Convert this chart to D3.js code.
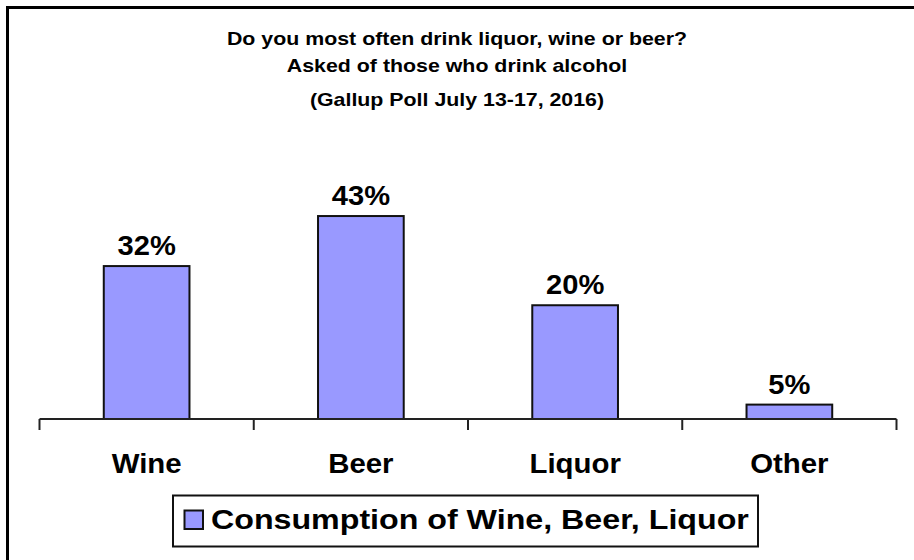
<!DOCTYPE html>
<html>
<head>
<meta charset="utf-8">
<script src="https://cdn.jsdelivr.net/npm/d3@7"></script>
<style>
  body { margin: 0; background: #fff; }
  text { font-family: "Liberation Sans", Arial, sans-serif; font-weight: bold; fill: #000; }
</style>
</head>
<body>
<div id="chart"></div>
<script>
// data
var drinks = ["Wine", "Beer", "Liquor", "Other"]
var barValues = [32.4, 43, 24.1, 3.05]      // bar heights as drawn
var valueLabels = ["32%", "43%", "20%", "5%"]
var titleLines = ["Do you most often drink liquor, wine or beer?", "Asked of those who drink alcohol", "(Gallup Poll July 13-17, 2016)"]
var seriesName = "Consumption of Wine, Beer, Liquor"

var svgW = 914
var svgH = 560
var barColor = "#9999ff"

var svg = d3.select('#chart').append('svg')
    .attr('width', svgW)
    .attr('height', svgH)

// outer frame (right and bottom edges fall outside the picture)
svg.append('rect')
    .attr('x', 7.5).attr('y', 7.5)
    .attr('width', svgW + 20).attr('height', svgH + 20)
    .attr('fill', 'none')
    .attr('stroke', '#000')
    .attr('stroke-width', 3)

// titles (the original text is a bit stretched sideways)
var titleY = [45, 72, 106]
svg.selectAll('.title')
    .data(titleLines)
    .enter().append('text')
    .attr('class', 'title')
    .attr('transform', (d, i) => `translate(457,${titleY[i]}) scale(1.22,1)`)
    .attr('text-anchor', 'middle')
    .style('font-size', '17.5px')
    .text(d => d)

var margins = { left: 39.5, right: 17.5, top: 183, bottom: 141 }
var chartW = svgW - margins.left - margins.right
var chartH = svgH - margins.top - margins.bottom

var chart = svg.append('g')
    .attr('transform', `translate(${margins.left},${margins.top})`)

var xscale = d3.scaleBand()
    .domain(drinks)
    .range([0, chartW])
    .paddingInner(0.6)
    .paddingOuter(0.3)

var yscale = d3.scaleLinear()
    .domain([0, 50])
    .range([chartH, 0])

var data = drinks.map((d, i) => ({ name: d, value: barValues[i], label: valueLabels[i] }))

chart.selectAll('.bar')
    .data(data)
    .enter().append('rect')
    .attr('class', 'bar')
    .attr('x', d => xscale(d.name))
    .attr('y', d => yscale(d.value))
    .attr('width', xscale.bandwidth())
    .attr('height', d => chartH - yscale(d.value))
    .attr('fill', barColor)
    .attr('stroke', '#111')
    .attr('stroke-width', 2)

chart.selectAll('.vlabel')
    .data(data)
    .enter().append('text')
    .attr('class', 'vlabel')
    .attr('transform', d => `translate(${xscale(d.name) + xscale.bandwidth() / 2},${yscale(d.value) - 11}) scale(1.04,1)`)
    .attr('text-anchor', 'middle')
    .style('font-size', '28px')
    .text(d => d.label)

// category axis: ticks sit between the categories
var step = xscale.step()
var tickPos = d3.range(drinks.length + 1).map(i => i * step)
var axis = chart.append('g')
    .attr('transform', `translate(0, ${chartH})`)
axis.append('line')
    .attr('x1', 0).attr('x2', chartW)
    .attr('y1', 0).attr('y2', 0)
    .attr('stroke', '#222').attr('stroke-width', 2)
axis.selectAll('.tick')
    .data(tickPos)
    .enter().append('line')
    .attr('x1', d => d).attr('x2', d => d)
    .attr('y1', 0).attr('y2', 11)
    .attr('stroke', '#222').attr('stroke-width', 2)
axis.selectAll('.cat')
    .data(drinks)
    .enter().append('text')
    .attr('class', 'cat')
    .attr('transform', d => `translate(${xscale(d) + xscale.bandwidth() / 2},54) scale(1.05,1)`)
    .attr('text-anchor', 'middle')
    .style('font-size', '28px')
    .text(d => d)

// legend
var legend = svg.append('g')
legend.append('rect')
    .attr('x', 173).attr('y', 495.5)
    .attr('width', 585).attr('height', 51)
    .attr('fill', '#fff')
    .attr('stroke', '#111').attr('stroke-width', 2)
legend.append('rect')
    .attr('x', 184.5).attr('y', 510.5)
    .attr('width', 18.5).attr('height', 18.5)
    .attr('fill', barColor)
    .attr('stroke', '#111').attr('stroke-width', 2)
legend.append('text')
    .attr('transform', 'translate(211,529) scale(1.15,1)')
    .style('font-size', '28px')
    .text(seriesName)
</script>
</body>
</html>
